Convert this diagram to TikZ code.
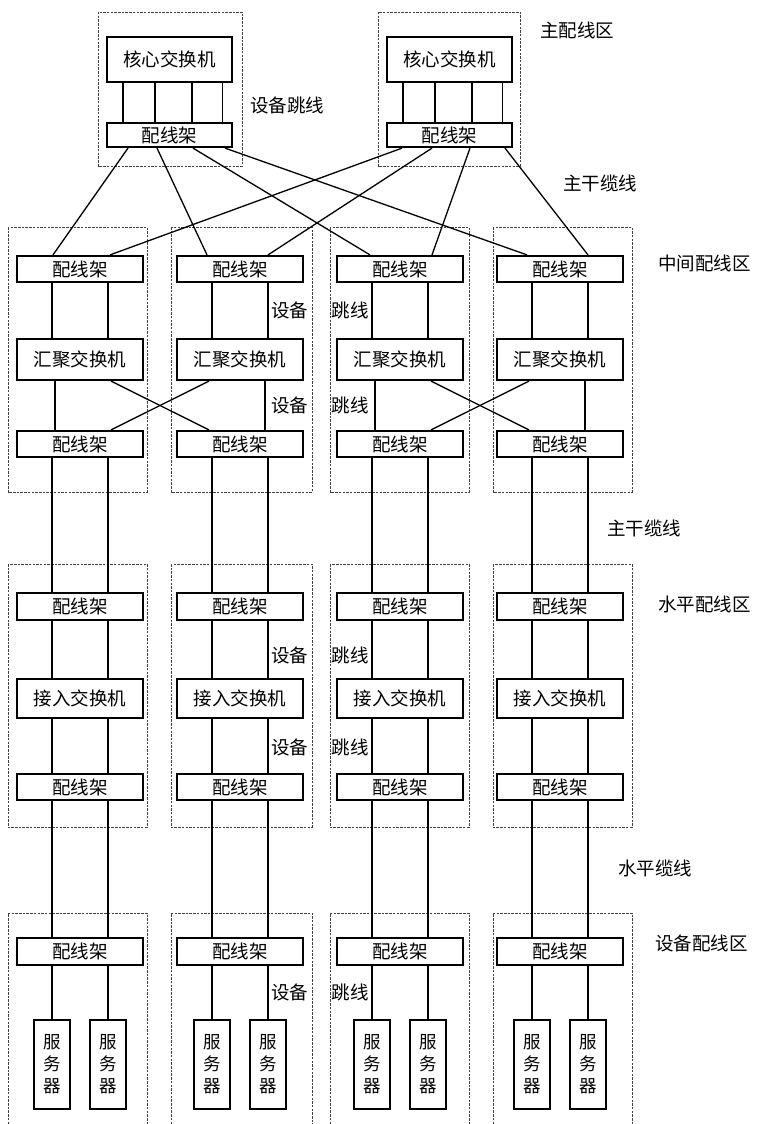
\documentclass[tikz,border=0pt]{standalone}
\usepackage{fontspec}
\setmainfont{Noto Sans CJK SC}
\begin{document}
\begin{tikzpicture}[x=1pt,y=-1pt,
  box/.style={draw, line width=2.2pt, inner sep=0pt, font=\fontsize{18.5}{21}\selectfont},
  panel/.style={box, minimum width=126pt, minimum height=26pt},
  switchbox/.style={box, minimum width=126pt, minimum height=41pt},
  server/.style={draw, line width=2.2pt, inner sep=0pt, minimum width=36pt, minimum height=89pt,
                 align=center, font=\fontsize{17.5}{22}\selectfont},
  wire/.style={line width=1.3pt},
  zone/.style={draw=black!75, line width=0.7pt, dash pattern=on 2.5pt off 1.2pt},
  lbl/.style={font=\fontsize{18.5}{21}\selectfont, inner sep=0pt}
]
\useasboundingbox (0,0) rectangle (757,1124);

% ---------- zone frames ----------
\draw[zone] (98,12) rectangle (242,166);
\draw[zone] (378,12) rectangle (520,166);
\foreach \l/\r in {8/147,171/312,330/469,493/632}{
  \draw[zone] (\l,227) rectangle (\r,492);
  \draw[zone] (\l,564) rectangle (\r,827);
  \draw[zone] (\l,1124) -- (\l,913) -- (\r,913) -- (\r,1124);
}

% ---------- main distribution area ----------
\node[box, minimum width=125pt, minimum height=45pt] (core1) at (169.5,59.5) {核心交换机};
\node[box, minimum width=125pt, minimum height=24pt] (cpA) at (169.5,135) {配线架};
\node[box, minimum width=125pt, minimum height=45pt] (core2) at (449.5,59.5) {核心交换机};
\node[box, minimum width=125pt, minimum height=24pt] (cpB) at (449.5,135) {配线架};
\foreach \d in {-46.5,-14.5,22.5,53}{
  \draw[wire] ([xshift=\d pt]core1.south) -- ([xshift=\d pt]cpA.north);
  \draw[wire] ([xshift=\d pt]core2.south) -- ([xshift=\d pt]cpB.north);
}

% ---------- columns ----------
\foreach \i/\c in {1/80,2/240,3/400,4/560}{
  \node[panel] (mp\i) at (\c,269) {配线架};
  \node[switchbox] (ag\i) at (\c,359.5) {汇聚交换机};
  \node[panel] (ml\i) at (\c,444) {配线架};
  \node[panel, minimum height=27pt] (hp\i) at (\c,606.5) {配线架};
  \node[switchbox, minimum height=39pt] (as\i) at (\c,698.5) {接入交换机};
  \node[panel] (hl\i) at (\c,787) {配线架};
  \node[panel, minimum height=27pt] (dp\i) at (\c,951.5) {配线架};
  \node[server] (sa\i) at ({\c-28},1064.5) {服\\务\\器};
  \node[server] (sb\i) at ({\c+28},1064.5) {服\\务\\器};
  \foreach \d in {-28,28}{
    \draw[wire] ([xshift=\d pt]mp\i.south) -- ([xshift=\d pt]ag\i.north);
    \draw[wire] ([xshift=\d pt]ml\i.south) -- ([xshift=\d pt]hp\i.north);
    \draw[wire] ([xshift=\d pt]hp\i.south) -- ([xshift=\d pt]as\i.north);
    \draw[wire] ([xshift=\d pt]as\i.south) -- ([xshift=\d pt]hl\i.north);
    \draw[wire] ([xshift=\d pt]hl\i.south) -- ([xshift=\d pt]dp\i.north);
  }
  \draw[wire] (sa\i.north |- dp\i.south) -- (sa\i.north);
  \draw[wire] (sb\i.north |- dp\i.south) -- (sb\i.north);
}

% aggregation switches to lower patch panels (crossed pairs)
\draw[wire] ([xshift=-25pt]ag1.south) -- ([xshift=-25pt]ml1.north);
\draw[wire] ([xshift=31pt]ag1.south) -- ([xshift=-31pt]ml2.north);
\draw[wire] ([xshift=-31pt]ag2.south) -- ([xshift=31pt]ml1.north);
\draw[wire] ([xshift=25pt]ag2.south) -- ([xshift=25pt]ml2.north);
\draw[wire] ([xshift=-25pt]ag3.south) -- ([xshift=-25pt]ml3.north);
\draw[wire] ([xshift=31pt]ag3.south) -- ([xshift=-31pt]ml4.north);
\draw[wire] ([xshift=-31pt]ag4.south) -- ([xshift=31pt]ml3.north);
\draw[wire] ([xshift=25pt]ag4.south) -- ([xshift=25pt]ml4.north);

% backbone cabling from the main patch panels
\draw[wire] ([xshift=-41.5pt]cpA.south) -- ([xshift=-27pt]mp1.north);
\draw[wire] ([xshift=-12.5pt]cpA.south) -- ([xshift=-33pt]mp2.north);
\draw[wire] ([xshift=23.5pt]cpA.south) -- ([xshift=-30pt]mp3.north);
\draw[wire] ([xshift=55.5pt]cpA.south) -- ([xshift=-33pt]mp4.north);
\draw[wire] ([xshift=-47.5pt]cpB.south) -- ([xshift=30pt]mp1.north);
\draw[wire] ([xshift=-17.5pt]cpB.south) -- ([xshift=28pt]mp2.north);
\draw[wire] ([xshift=20.5pt]cpB.south) -- ([xshift=32pt]mp3.north);
\draw[wire] ([xshift=55.5pt]cpB.south) -- ([xshift=28pt]mp4.north);

% ---------- labels ----------
\node[lbl] (tMain) at (577,30) {主配线区};
\node[lbl] (tJumper) at (287,105) {设备跳线};
\node[lbl] (tBack1) at (600,183) {主干缆线};
\node[lbl, anchor=west] (tMid) at (658,263) {中间配线区};
\node[lbl] (tBack2) at (644,528) {主干缆线};
\node[lbl, anchor=west] (tHor) at (658,604) {水平配线区};
\node[lbl] (tHcab) at (655,868) {水平缆线};
\node[lbl, anchor=west] (tDev) at (655,943) {设备配线区};
\foreach \y [count=\k] in {310,405,655,747,992}{
  \node[lbl] (tEq\k) at (289.5,\y) {设备};
  \node[lbl] (tJp\k) at (350,\y) {跳线};
}
\end{tikzpicture}
\end{document}
